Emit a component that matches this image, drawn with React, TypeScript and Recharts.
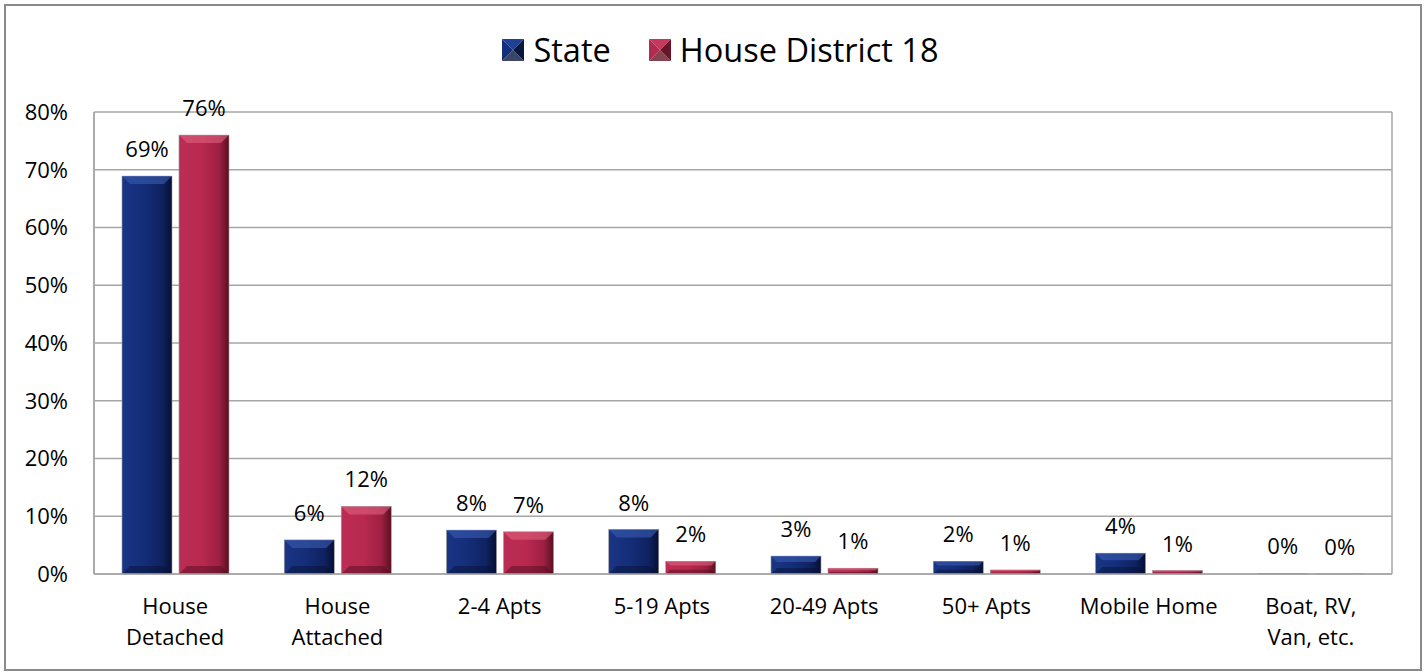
import React from 'react';
import { BarChart, Bar, XAxis, YAxis, CartesianGrid, LabelList } from 'recharts';

const categories = [
  'House\nDetached',
  'House\nAttached',
  '2-4 Apts',
  '5-19 Apts',
  '20-49 Apts',
  '50+ Apts',
  'Mobile Home',
  'Boat, RV,\nVan, etc.',
];
const stateValues = [68.9, 5.9, 7.6, 7.7, 3.1, 2.2, 3.6, 0.1];
const districtValues = [76.0, 11.7, 7.3, 2.2, 1.0, 0.7, 0.6, 0.05];
const yTicks = [0, 10, 20, 30, 40, 50, 60, 70, 80];

const data = categories.map((name, i) => ({
  name,
  state: stateValues[i],
  district: districtValues[i],
}));

const FONT = '"Open Sans", "Noto Sans", sans-serif';

const makeBevelBar = (gradId: string, light: string, dark: string) => (props: any) => {
  const { x, y, width, height } = props;
  if (!height || height <= 0) {
    return <rect x={x} y={y - 1} width={width} height={1} fill={dark} />;
  }
  const b = Math.min(8, height / 3, width / 3);
  return (
    <g>
      <rect x={x} y={y} width={width} height={height} fill={`url(#${gradId})`} stroke="#9a9a9a" strokeWidth={0.6} />
      <polygon
        points={`${x},${y} ${x + width},${y} ${x + width - b},${y + b} ${x + b},${y + b}`}
        fill={light}
        opacity={0.6}
      />
      <polygon
        points={`${x},${y + height} ${x + width},${y + height} ${x + width - b},${y + height - b} ${x + b},${y + height - b}`}
        fill={dark}
        opacity={0.45}
      />
    </g>
  );
};

const StateBar = makeBevelBar('gradState', '#3a5bb0', '#061030');
const DistrictBar = makeBevelBar('gradDistrict', '#e0607f', '#4a0a1c');

const CategoryTick = (props: any) => {
  const { x, y, payload } = props;
  const lines = String(payload.value).split('\n');
  return (
    <text x={x} y={y} textAnchor="middle" fontFamily={FONT} fontSize={22} fill="#000">
      {lines.map((l, i) => (
        <tspan key={i} x={x} dy={i === 0 ? 38 : 31}>
          {l}
        </tspan>
      ))}
    </text>
  );
};

const pct = (v: any) => `${Math.round(Number(v))}%`;

const LegendSwatch = ({ light, base, dark }: { light: string; base: string; dark: string }) => (
  <svg width={22} height={22} style={{ display: 'block' }}>
    <polygon points="0,0 22,0 11,11" fill={light} />
    <polygon points="0,0 11,11 0,22" fill={base} />
    <polygon points="22,0 22,22 11,11" fill={dark} />
    <polygon points="0,22 22,22 11,11" fill={dark} opacity={0.8} />
  </svg>
);

export default function App() {
  return (
    <div style={{ position: 'absolute', left: 0, top: 0, width: 1425, height: 672, background: '#fff' }}>
      <div
        style={{
          position: 'absolute',
          left: 4,
          top: 4,
          width: 1418,
          height: 667,
          border: '2px solid #8a8a8a',
          boxSizing: 'border-box',
        }}
      />
      <div
        style={{
          position: 'absolute',
          top: 27,
          left: 8,
          width: 1425,
          display: 'flex',
          justifyContent: 'center',
          alignItems: 'center',
          fontFamily: FONT,
          fontSize: 32.5,
          color: '#000',
        }}
      >
        <div style={{ display: 'flex', alignItems: 'center', marginRight: 38 }}>
          <LegendSwatch light="#1f3f99" base="#142e7c" dark="#0a1840" />
          <span style={{ marginLeft: 9 }}>State</span>
        </div>
        <div style={{ display: 'flex', alignItems: 'center' }}>
          <LegendSwatch light="#c6385e" base="#b12a50" dark="#6a1428" />
          <span style={{ marginLeft: 9 }}>House District 18</span>
        </div>
      </div>
      <div style={{ position: 'absolute', left: 0, top: 0 }}>
        <BarChart
          width={1425}
          height={672}
          data={data}
          margin={{ top: 112, right: 33, bottom: 68, left: 0 }}
          barGap={7}
          barSize={50}
        >
          <defs>
            <linearGradient id="gradState" x1="0" y1="0" x2="1" y2="0">
              <stop offset="0%" stopColor="#1a3585" />
              <stop offset="45%" stopColor="#142d78" />
              <stop offset="80%" stopColor="#0f2260" />
              <stop offset="100%" stopColor="#060f33" />
            </linearGradient>
            <linearGradient id="gradDistrict" x1="0" y1="0" x2="1" y2="0">
              <stop offset="0%" stopColor="#bb2d55" />
              <stop offset="45%" stopColor="#b9294f" />
              <stop offset="80%" stopColor="#9e2042" />
              <stop offset="100%" stopColor="#5a0f22" />
            </linearGradient>
          </defs>
          <CartesianGrid
            stroke="#a6a6a6"
            strokeWidth={1.5}
            vertical
            verticalCoordinatesGenerator={({ offset }: any) => [offset.left, offset.left + offset.width]}
          />
          <XAxis
            dataKey="name"
            interval={0}
            height={30}
            tickLine={false}
            tickSize={0}
            axisLine={{ stroke: '#a6a6a6', strokeWidth: 1.5 }}
            tick={<CategoryTick />}
          />
          <YAxis
            width={94}
            domain={[0, 80]}
            ticks={yTicks}
            tickFormatter={(v) => `${v}%`}
            tickLine={false}
            tickSize={0}
            tickMargin={26}
            axisLine={{ stroke: '#a6a6a6', strokeWidth: 1.5 }}
            tick={{ fill: '#000', fontSize: 22, fontFamily: FONT }}
          />
          <Bar dataKey="state" name="State" shape={StateBar} isAnimationActive={false}>
            <LabelList dataKey="state" position="top" offset={19} formatter={pct} fill="#000" fontSize={22} fontFamily={FONT} />
          </Bar>
          <Bar dataKey="district" name="House District 18" shape={DistrictBar} isAnimationActive={false}>
            <LabelList dataKey="district" position="top" offset={19} formatter={pct} fill="#000" fontSize={22} fontFamily={FONT} />
          </Bar>
        </BarChart>
      </div>
    </div>
  );
}
